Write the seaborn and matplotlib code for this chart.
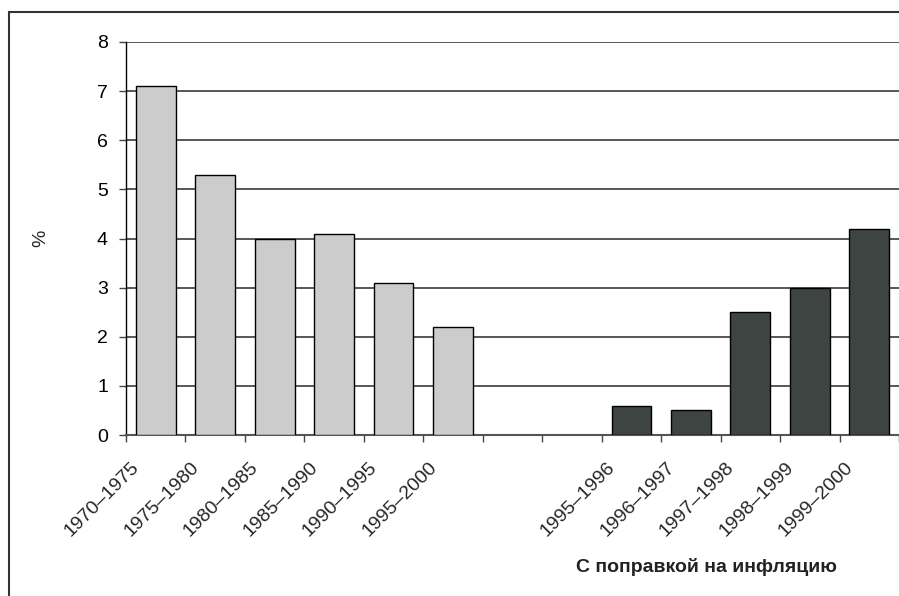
import matplotlib
matplotlib.use("Agg")
import matplotlib.pyplot as plt
import matplotlib.transforms as mtransforms
from matplotlib.patches import Rectangle
import numpy as np
import pandas as pd
import seaborn as sns

# nominal growth by five-year period, then inflation-adjusted by year
nominal_periods = ["1970–1975", "1975–1980", "1980–1985", "1985–1990", "1990–1995", "1995–2000"]
nominal_values = [7.1, 5.3, 4.0, 4.1, 3.1, 2.2]
real_periods = ["1995–1996", "1996–1997", "1997–1998", "1998–1999", "1999–2000"]
real_values = [0.6, 0.5, 2.5, 3.0, 4.2]
gap_slots = ["gap_a", "gap_b"]
y_ticks = [0, 1, 2, 3, 4, 5, 6, 7, 8]

LIGHT = "#cccccc"
DARK = "#3c4543"
FS = 14

order = nominal_periods + gap_slots + real_periods
tick_labels = nominal_periods + ["", ""] + real_periods

df = pd.DataFrame({
    "period": nominal_periods + real_periods,
    "value": nominal_values + real_values,
    "series": ["nominal"] * len(nominal_periods) + ["real"] * len(real_periods),
})

sns.set_theme(style="white")
plt.rcParams["font.family"] = ["Liberation Sans", "DejaVu Sans"]

fig = plt.figure(figsize=(8.99, 5.96), dpi=100)
ax = fig.add_axes([126 / 899, 1 - 435 / 596, 1 - 126 / 899, (435 - 42) / 596])

sns.barplot(data=df, x="period", y="value", hue="series", order=order,
            palette={"nominal": LIGHT, "real": DARK}, dodge=False, width=0.67,
            edgecolor="black", linewidth=1, legend=False, ax=ax, zorder=3)

ax.set_xlim(-0.5, len(order) - 0.5)
ax.set_ylim(0, 8)
ax.set_yticks(y_ticks)
ax.yaxis.grid(True, color="#2a2a2a", linewidth=1.1, zorder=0)
ax.set_axisbelow(True)

for side in ["top", "right"]:
    ax.spines[side].set_visible(False)
ax.spines["left"].set_color("black")
ax.spines["bottom"].set_color("#555555")
ax.spines["left"].set_linewidth(1)
ax.spines["bottom"].set_linewidth(1.5)

ax.tick_params(axis="y", which="major", length=5, width=1, color="#444444",
               direction="out", left=True, pad=8, labelsize=FS, labelcolor="black")
ax.set_xticks(range(len(order)))
ax.set_xticklabels(tick_labels, rotation=45, ha="right", va="top", fontsize=FS)
ax.set_xticks(np.arange(-0.5, len(order), 1), minor=True)
ax.tick_params(axis="x", which="major", length=0, pad=0)
ax.tick_params(axis="x", which="minor", length=5, width=1, color="#444444",
               direction="out", bottom=True)

shift = mtransforms.ScaledTranslation(-13 / 100, -24 / 100, fig.dpi_scale_trans)
for lbl in ax.get_xticklabels():
    lbl.set_transform(lbl.get_transform() + shift)

ax.set_xlabel("")
ax.set_ylabel("%", fontsize=FS, labelpad=34)

fig.text(706 / 899, 1 - 567 / 596, "С поправкой на инфляцию", ha="center", va="center",
         fontsize=FS, fontweight="bold", color="#222222")

fig.patches.append(Rectangle((9 / 899, -0.1), 1.5, 1.1 - 12 / 596, transform=fig.transFigure,
                             fill=False, edgecolor="#333333", linewidth=1.5))

fig.savefig("out.png", dpi=100)
